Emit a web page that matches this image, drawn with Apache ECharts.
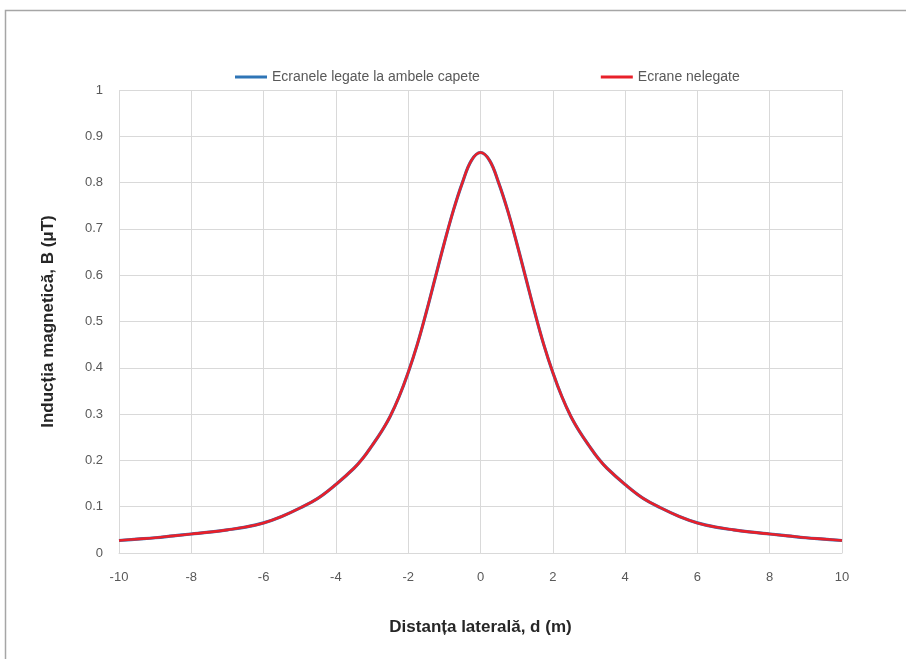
<!DOCTYPE html>
<html>
<head>
<meta charset="utf-8">
<script src="https://cdn.jsdelivr.net/npm/echarts@6/dist/echarts.min.js"></script>
<style>
  html, body { margin: 0; padding: 0; background: #fff; }
  #chart { width: 906px; height: 659px; }
</style>
</head>
<body>
<div id="chart"></div>
<script>
// distanta laterala (m)
var distances = [-10, -9.5, -9, -8.5, -8, -7.5, -7, -6.5, -6, -5.5, -5, -4.5, -4, -3.5, -3.25, -3, -2.75, -2.5, -2.25, -2, -1.75, -1.5, -1.25, -1, -0.75, -0.5, -0.25, 0,
                 0.25, 0.5, 0.75, 1, 1.25, 1.5, 1.75, 2, 2.25, 2.5, 2.75, 3, 3.25, 3.5, 4, 4.5, 5, 5.5, 6, 6.5, 7, 7.5, 8, 8.5, 9, 9.5, 10];
// inductia magnetica (uT)
var legate = [0.027, 0.030, 0.033, 0.037, 0.041, 0.045, 0.050, 0.056, 0.065, 0.079, 0.097, 0.118, 0.148, 0.183, 0.205, 0.232, 0.261, 0.295, 0.338, 0.39, 0.45, 0.52, 0.595, 0.67, 0.74, 0.80, 0.848, 0.865,
              0.848, 0.80, 0.74, 0.67, 0.595, 0.52, 0.45, 0.39, 0.338, 0.295, 0.261, 0.232, 0.205, 0.183, 0.148, 0.118, 0.097, 0.079, 0.065, 0.056, 0.050, 0.045, 0.041, 0.037, 0.033, 0.030, 0.027];
var nelegate = [0.027, 0.030, 0.033, 0.037, 0.041, 0.045, 0.050, 0.056, 0.065, 0.079, 0.097, 0.118, 0.148, 0.183, 0.205, 0.232, 0.261, 0.295, 0.338, 0.39, 0.45, 0.52, 0.595, 0.67, 0.74, 0.80, 0.848, 0.865,
                0.848, 0.80, 0.74, 0.67, 0.595, 0.52, 0.45, 0.39, 0.338, 0.295, 0.261, 0.232, 0.205, 0.183, 0.148, 0.118, 0.097, 0.079, 0.065, 0.056, 0.050, 0.045, 0.041, 0.037, 0.033, 0.030, 0.027];
var seriesNames = ['Ecranele legate la ambele capete', 'Ecrane nelegate'];

function pairs(xs, ys) {
  return xs.map(function (x, i) { return [x, ys[i]]; });
}

var chart = echarts.init(document.getElementById('chart'));
var font = 'Liberation Sans, Arial, sans-serif';
var option = {
  backgroundColor: '#fff',
  animation: false,
  textStyle: { fontFamily: font },
  graphic: [{
    type: 'rect',
    shape: { x: 5.5, y: 10.5, width: 1000, height: 1000 },
    style: { fill: 'none', stroke: '#a6a6a6', lineWidth: 1.5 },
    z: 0
  }],
  legend: {
    top: 65,
    left: 230,
    itemGap: 121,
    itemWidth: 32,
    itemHeight: 3,
    icon: 'rect',
    textStyle: { color: '#595959', fontSize: 14, fontFamily: font },
    data: seriesNames
  },
  grid: { left: 119, right: 64, top: 90, bottom: 106 },
  xAxis: {
    type: 'value',
    min: -10,
    max: 10,
    interval: 2,
    name: 'Distanța laterală, d (m)',
    nameLocation: 'middle',
    nameGap: 66,
    nameTextStyle: { color: '#262626', fontSize: 17, fontWeight: 'bold', fontFamily: font },
    axisLine: { show: true, onZero: false, lineStyle: { color: '#d9d9d9' } },
    axisTick: { show: false },
    axisLabel: { color: '#595959', fontSize: 13, margin: 18 },
    splitLine: { show: true, lineStyle: { color: '#d9d9d9' } }
  },
  yAxis: {
    type: 'value',
    min: 0,
    max: 1,
    interval: 0.1,
    name: 'Inducția magnetică, B (μT)',
    nameLocation: 'middle',
    nameGap: 62,
    nameTextStyle: { color: '#262626', fontSize: 17, fontWeight: 'bold', fontFamily: font },
    axisLine: { show: false },
    axisTick: { show: false },
    axisLabel: { color: '#595959', fontSize: 13, margin: 16 },
    splitLine: { show: true, lineStyle: { color: '#d9d9d9' } }
  },
  series: [
    {
      name: seriesNames[0],
      type: 'line',
      smooth: 0.4,
      showSymbol: false,
      color: '#2e75b6',
      lineStyle: { width: 3.2, color: '#2e75b6' },
      data: pairs(distances, legate)
    },
    {
      name: seriesNames[1],
      type: 'line',
      smooth: 0.4,
      showSymbol: false,
      color: '#e8202a',
      lineStyle: { width: 2.6, color: '#e8202a' },
      data: pairs(distances, nelegate)
    }
  ]
};
chart.setOption(option);
</script>
</body>
</html>
